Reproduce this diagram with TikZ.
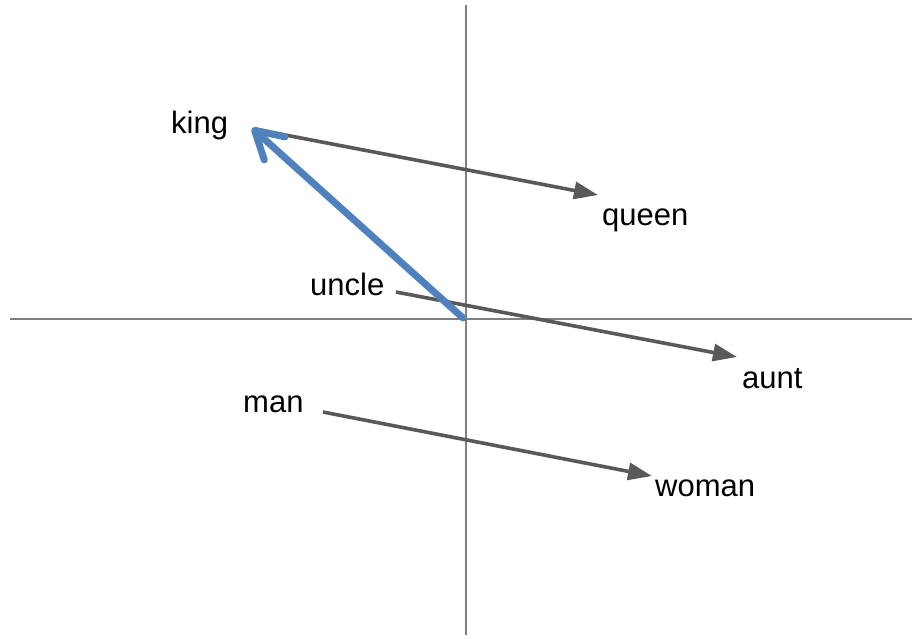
\documentclass[tikz,border=0pt]{standalone}
\usepackage{fontspec}
\setmainfont{Liberation Sans}
\usetikzlibrary{arrows.meta}
\definecolor{axisgray}{HTML}{7F7F7F}
\definecolor{arrowgray}{HTML}{595959}
\definecolor{kingblue}{HTML}{4F81BD}
\begin{document}
\begin{tikzpicture}[x=1pt,y=-1pt,
  lbl/.style={anchor=base west,inner sep=0pt,font=\fontsize{31}{37}\selectfont},
  axisline/.style={draw=axisgray,line width=1.3pt},
  grayarrow/.style={draw=arrowgray,line width=3.6pt,-{Triangle[length=24pt,width=17pt]}},
  bluearrow/.style={draw=kingblue,line width=7pt,line cap=round,-{Straight Barb[length=27pt,width=31pt,line cap=round,line join=round]}}]
\useasboundingbox (0,0) rectangle (913,638);
\fill[white] (0,0) rectangle (913,638);
% axes
\coordinate (ytop) at (466,5);
\coordinate (ybot) at (466,635);
\coordinate (xl) at (10,319);
\coordinate (xr) at (912,319);
\draw[axisline] (ytop) -- (ybot);
\draw[axisline] (xl) -- (xr);
% labels
\node[lbl] (king) at (171,133) {king};
\node[lbl] (queen) at (602,225) {queen};
\node[lbl] (uncle) at (310,295) {uncle};
\node[lbl] (aunt) at (742,388) {aunt};
\node[lbl] (man) at (243,412) {man};
\node[lbl] (woman) at (655,496) {woman};
% arrow ends
\coordinate (kstart) at (254,129);
\coordinate (kend) at (598,195);
\coordinate (ustart) at (396,292);
\coordinate (uend) at (737,357);
\coordinate (mstart) at (323,412);
\coordinate (mend) at (652,476);
\coordinate (bstart) at (463,318);
\coordinate (bend) at (252,128);
\draw[grayarrow] (kstart) -- (kend);
\draw[grayarrow] (ustart) -- (uend);
\draw[grayarrow] (mstart) -- (mend);
\draw[bluearrow] (bstart) -- (bend);
\end{tikzpicture}
\end{document}
